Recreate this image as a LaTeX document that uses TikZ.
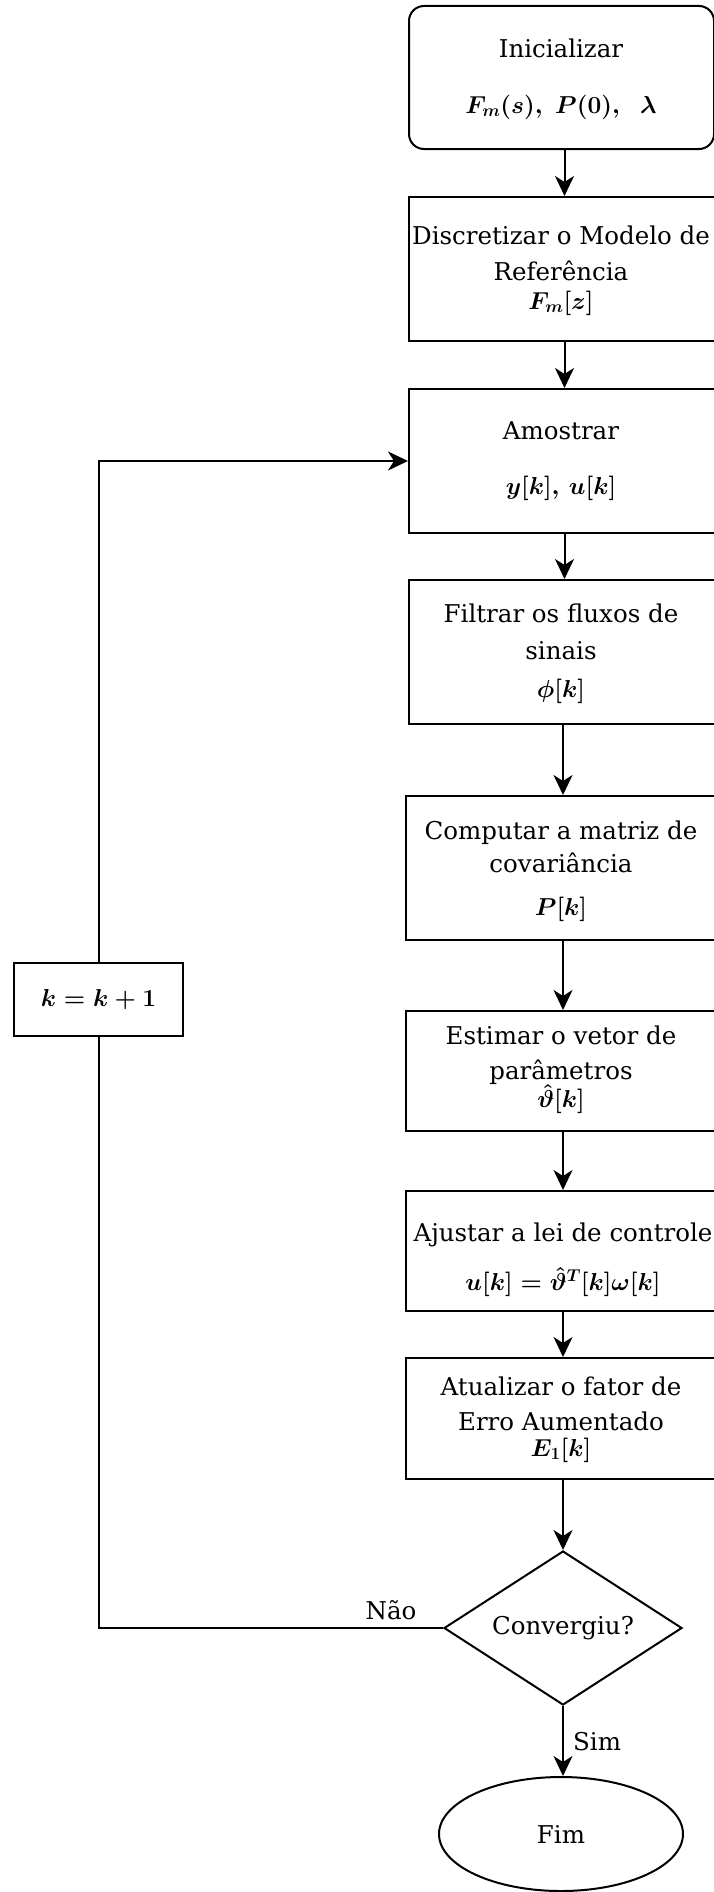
\RequirePackage{fix-cm}
\documentclass[tikz,border=0pt]{standalone}
\usepackage[no-math]{fontspec}
\setmainfont{DejaVu Serif}
\usetikzlibrary{shapes.geometric,arrows.meta}
\newcommand\txtfont{\fontsize{24.5}{35}\selectfont\boldmath}
\begin{document}
\begin{tikzpicture}[x=1pt,y=-1pt,
  box/.style={draw, line width=2pt, inner sep=0pt, rectangle},
  txt/.style={inner sep=0pt, align=center, font=\txtfont},
  lbl/.style={inner sep=0pt, font=\txtfont},
  arr/.style={line width=2pt, -{Stealth[length=20pt,width=19pt,inset=6pt]}},
  conn/.style={line width=2pt}]
\fill[white] (0,0) rectangle (713,1892);
\useasboundingbox (0,0) rectangle (713,1892);

% boxes
\node[box, rounded corners=15pt, minimum width=305pt, minimum height=143pt] (b1) at (561.5,77.5) {};
\node[box, minimum width=311pt, minimum height=144pt] (b2) at (564.5,269) {};
\node[box, minimum width=311pt, minimum height=144pt] (b3) at (564.5,461) {};
\node[box, minimum width=311pt, minimum height=144pt] (b4) at (564.5,652) {};
\node[box, minimum width=314pt, minimum height=144pt] (b5) at (563,868) {};
\node[box, minimum width=314pt, minimum height=120pt] (b6) at (563,1071) {};
\node[box, minimum width=314pt, minimum height=120pt] (b7) at (563,1251) {};
\node[box, minimum width=314pt, minimum height=121pt] (b8) at (563,1418.5) {};
\node[draw, line width=2pt, shape=diamond, inner sep=0pt, aspect=1.545,
      minimum width=238pt, minimum height=154pt] (dec) at (563,1628) {};
\node[draw, line width=2pt, shape=ellipse, inner sep=0pt,
      minimum width=244pt, minimum height=114pt] (fim) at (561,1834) {};
\node[box, minimum width=169pt, minimum height=73pt] (kb) at (98.5,999.5) {};

% texts
\node[txt] (t1) at (561,79) {Inicializar\\[21pt]$F_m(s),\ P(0),\ \ \lambda$};
\node[txt] (t2) at (561,270.5) {Discretizar o Modelo de\\[1pt]Referência\\[-6pt]$F_m[z]$};
\node[txt] (t3) at (561,461.5) {Amostrar\\[20pt]$y[k],\, u[k]$};
\node[txt] (t4) at (561,653.5) {Filtrar os fluxos de\\[2pt]sinais\\[3pt]$\phi[k]$};
\node[txt] (t5) at (561,871) {Computar a matriz de\\[-2pt]covariância\\[8pt]$P[k]$};
\node[txt] (t6) at (561,1069.5) {Estimar o vetor de\\parâmetros\\[-7pt]$\hat{\vartheta}[k]$};
\node[txt] (t7) at (563,1260) {Ajustar a lei de controle\\[14pt]$u[k]=\hat{\vartheta}^T[k]\omega[k]$};
\node[txt] (t8) at (561,1419.5) {Atualizar o fator de\\Erro Aumentado\\[-9pt]$E_1[k]$};
\node[txt] (tdec) at (dec.center) {Convergiu?};
\node[txt] (tfim) at (fim.center) {Fim};
\node[txt] (tk) at (kb.center) {$k=k+1$};
\node[lbl] (nao) at (391,1610) {Não};
\node[lbl, anchor=west] (sim) at (573,1742) {Sim};

% connectors
\draw[arr] (b2.north |- b1.south) -- (b2.north);
\draw[arr] (b3.north |- b2.south) -- (b3.north);
\draw[arr] (b4.north |- b3.south) -- (b4.north);
\draw[arr] (b5.north |- b4.south) -- (b5.north);
\draw[arr] (b6.north |- b5.south) -- (b6.north);
\draw[arr] (b7.north |- b6.south) -- (b7.north);
\draw[arr] (b8.north |- b7.south) -- (b8.north);
\draw[arr] (dec.north |- b8.south) -- (dec.north);
\draw[arr] (dec.south) -- (dec.south |- fim.north);
\draw[conn] (dec.west) -| (kb.south);
\draw[arr] (kb.north) |- (b3.west);
\end{tikzpicture}
\end{document}
